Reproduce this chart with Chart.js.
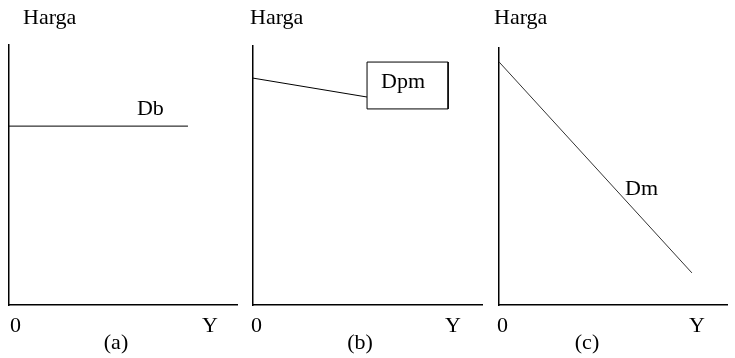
<!DOCTYPE html>
<html>
<head>
<meta charset="utf-8">
<script src="https://cdn.jsdelivr.net/npm/chart.js@4"></script>
<style>
  html, body { margin: 0; padding: 0; background: #fff; }
  #wrap { position: relative; width: 735px; height: 358px; }
  .pane { position: absolute; top: 0; width: 245px; height: 358px; }
</style>
</head>
<body>
<div id="wrap">
  <div class="pane" style="left:0px"><canvas id="c0"></canvas></div>
  <div class="pane" style="left:245px"><canvas id="c1"></canvas></div>
  <div class="pane" style="left:490px"><canvas id="c2"></canvas></div>
</div>
<script>
// ---- data ----
const panelTitles = ['(a)', '(b)', '(c)'];
const curveNames = ['Db', 'Dpm', 'Dm'];
const yAxisTitle = 'Harga';
const xAxisTitle = 'Y';
const originLabel = '0';

// demand curves (x = quantity Y, y = price), scale 0..10
const dbCurve  = [{x: 0, y: 6.88}, {x: 7.85, y: 6.88}];
const dpmCurve = [{x: 0, y: 8.76}, {x: 4.98, y: 8.03}];
const dmCurve  = [{x: 0, y: 9.46}, {x: 8.46, y: 1.25}];
// label box around "Dpm"
const dpmBox = [{x: 4.98, y: 9.38}, {x: 8.52, y: 9.38}, {x: 8.52, y: 7.57}, {x: 4.98, y: 7.57}, {x: 4.98, y: 9.38}];
// curve-label anchors (left, baseline) in data units
const curveLabelPos = [{x: 5.61, y: 7.31}, {x: 5.59, y: 8.38}, {x: 5.53, y: 4.28}];

const FONT = '22px "Liberation Serif", "Times New Roman", serif';

const panels = [
  { id: 'c0', pad: {left: 9, right: 8, top: 45, bottom: 53}, sets: [dbCurve],
    hargaDx: 14, zeroDx: 1, yDx: -35, titleX: 116 },
  { id: 'c1', pad: {left: 8, right: 8, top: 46, bottom: 53}, sets: [dpmCurve, dpmBox],
    hargaDx: -3, zeroDx: -2, yDx: -37, titleX: 115 },
  { id: 'c2', pad: {left: 9, right: 8, top: 48, bottom: 53}, sets: [dmCurve],
    hargaDx: -5, zeroDx: -2, yDx: -38, titleX: 97 }
];

const textPlugin = {
  id: 'texts',
  afterDraw(chart, args, opts) {
    const ctx = chart.ctx;
    const a = chart.chartArea;
    const p = opts.panel;
    const i = opts.index;
    const xs = chart.scales.x, ys = chart.scales.y;
    ctx.save();
    ctx.font = FONT;
    ctx.fillStyle = '#000';
    ctx.textBaseline = 'alphabetic';
    ctx.textAlign = 'left';
    ctx.fillText(yAxisTitle, a.left + p.hargaDx, 24);
    ctx.fillText(originLabel, a.left + p.zeroDx, 332);
    ctx.fillText(xAxisTitle, a.right + p.yDx, 332);
    const lp = curveLabelPos[i];
    ctx.fillText(curveNames[i], xs.getPixelForValue(lp.x), ys.getPixelForValue(lp.y));
    ctx.textAlign = 'center';
    ctx.fillText(panelTitles[i], p.titleX, 349);
    ctx.restore();
  }
};

panels.forEach((p, i) => {
  new Chart(document.getElementById(p.id), {
    type: 'scatter',
    data: {
      datasets: p.sets.map(d => ({
        data: d,
        showLine: true,
        borderColor: i === 2 ? '#333' : '#000',
        borderWidth: 1,
        pointRadius: 0,
        fill: false,
        tension: 0
      }))
    },
    options: {
      responsive: true,
      maintainAspectRatio: false,
      animation: false,
      layout: { padding: p.pad },
      plugins: {
        legend: { display: false },
        tooltip: { enabled: false },
        texts: { panel: p, index: i }
      },
      scales: {
        x: {
          type: 'linear', min: 0, max: 10,
          ticks: { display: false },
          grid: { display: false, drawTicks: false },
          border: { display: true, color: '#000', width: 1.5 }
        },
        y: {
          type: 'linear', min: 0, max: 10,
          ticks: { display: false },
          grid: { display: false, drawTicks: false },
          border: { display: true, color: '#000', width: 1.5 }
        }
      }
    },
    plugins: [textPlugin]
  });
});
</script>
</body>
</html>
